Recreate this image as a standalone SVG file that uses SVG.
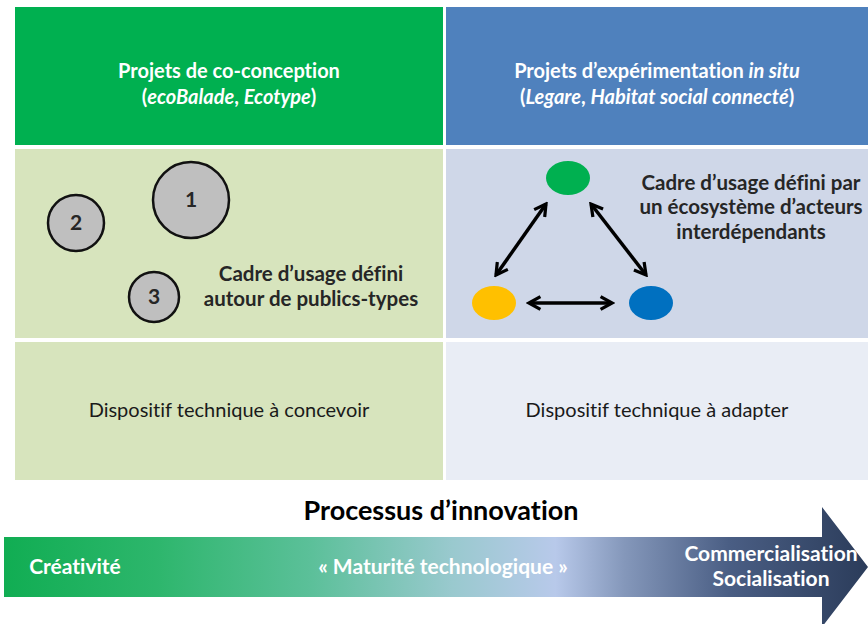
<svg xmlns="http://www.w3.org/2000/svg" width="868" height="624" viewBox="0 0 868 624">
<defs>
<style>
.t{font-family:Lato,"Open Sans","Liberation Sans",sans-serif;text-anchor:middle;font-variant-ligatures:none;font-feature-settings:"liga" 0}
.hw{fill:#ffffff;font-weight:bold;font-size:20px}
.dk{fill:#262626;font-weight:bold;font-size:20.5px}
.rg{fill:#1a1a1a;font-size:20px}
.num{fill:#262626;font-weight:bold;font-size:21px}
.circ{fill:#BFBFBF;stroke:#111111;stroke-width:2.5}
.conn{stroke:#000000;stroke-width:3.5;fill:none;marker-start:url(#ah);marker-end:url(#ah)}
.bw{fill:#ffffff;font-weight:bold;font-size:21px}
</style>
<marker id="ah" viewBox="0 0 12 12" refX="10" refY="6" markerWidth="4.6" markerHeight="4.6" orient="auto-start-reverse" markerUnits="strokeWidth">
<path d="M1.5,1.2 L10,6 L1.5,10.8" fill="none" stroke="#000" stroke-width="2.4" stroke-linejoin="miter"/>
</marker>
<linearGradient id="band" x1="0" y1="0" x2="868" y2="0" gradientUnits="userSpaceOnUse">
<stop offset="0" stop-color="#10AD52"/>
<stop offset="0.18" stop-color="#2DB66C"/>
<stop offset="0.36" stop-color="#5CC09A"/>
<stop offset="0.52" stop-color="#99C9CE"/>
<stop offset="0.64" stop-color="#B8C9EA"/>
<stop offset="0.72" stop-color="#8497BA"/>
<stop offset="0.84" stop-color="#4A5E84"/>
<stop offset="1" stop-color="#2B3C5A"/>
</linearGradient>
</defs>
<rect width="868" height="624" fill="#ffffff"/>
<g id="header-left">
<rect x="15" y="7" width="428" height="138" fill="#00B050"/>
<text class="t hw" x="229" y="78">Projets de co-conception</text>
<text class="t hw" x="229" y="104">(<tspan font-style="italic">ecoBalade</tspan>, <tspan font-style="italic">Ecotype</tspan>)</text>
</g>
<g id="header-right">
<rect x="446" y="7" width="422" height="138" fill="#4F81BD"/>
<text class="t hw" x="657" y="78">Projets d’expérimentation <tspan font-style="italic">in situ</tspan></text>
<text class="t hw" x="657" y="104">(<tspan font-style="italic">Legare</tspan>, <tspan font-style="italic">Habitat social connecté</tspan>)</text>
</g>
<g id="middle-left">
<rect x="15" y="149" width="428" height="189" fill="#D7E4BD"/>
<text class="t dk" x="311" y="281">Cadre d’usage défini</text>
<text class="t dk" x="311" y="306">autour de publics-types</text>
</g>
<g id="circle-1">
<circle class="circ" cx="191" cy="200" r="38"/>
<text class="t num" x="191" y="207">1</text>
</g>
<g id="circle-2">
<circle class="circ" cx="76" cy="223" r="28"/>
<text class="t num" x="76" y="230">2</text>
</g>
<g id="circle-3">
<circle class="circ" cx="154" cy="297" r="25"/>
<text class="t num" x="154" y="304">3</text>
</g>
<g id="middle-right">
<rect x="446" y="149" width="422" height="189" fill="#CFD7E8"/>
<text class="t dk" x="751" y="190">Cadre d’usage défini par</text>
<text class="t dk" x="751" y="214">un écosystème d’acteurs</text>
<text class="t dk" x="751" y="239">interdépendants</text>
</g>
<g id="actor-green"><ellipse cx="568" cy="178" rx="22" ry="17" fill="#00B050"/></g>
<g id="actor-yellow"><ellipse cx="494" cy="303" rx="22" ry="17" fill="#FFC000"/></g>
<g id="actor-blue"><ellipse cx="651" cy="303" rx="22" ry="17" fill="#0070C0"/></g>
<g id="connectors">
<line class="conn" x1="496" y1="275" x2="546" y2="204"/>
<line class="conn" x1="591" y1="204" x2="646" y2="275"/>
<line class="conn" x1="529" y1="303" x2="612" y2="303"/>
</g>
<g id="bottom-left">
<rect x="15" y="342" width="428" height="138" fill="#D7E4BD"/>
<text class="t rg" x="229" y="417">Dispositif technique à concevoir</text>
</g>
<g id="bottom-right">
<rect x="446" y="342" width="422" height="138" fill="#E9EDF5"/>
<text class="t rg" x="657" y="417">Dispositif technique à adapter</text>
</g>
<g id="process">
<text class="t" x="441" y="520" font-weight="bold" font-size="27" fill="#000">Processus d’innovation</text>
<path d="M4,537 L822,537 L822,507 L868,567 L822,627 L822,597 L4,597 Z" fill="url(#band)"/>
<text class="t bw" x="75" y="574">Créativité</text>
<text class="t bw" x="443" y="574">« Maturité technologique »</text>
<text class="t bw" x="771" y="561">Commercialisation</text>
<text class="t bw" x="771" y="586">Socialisation</text>
</g>
</svg>
